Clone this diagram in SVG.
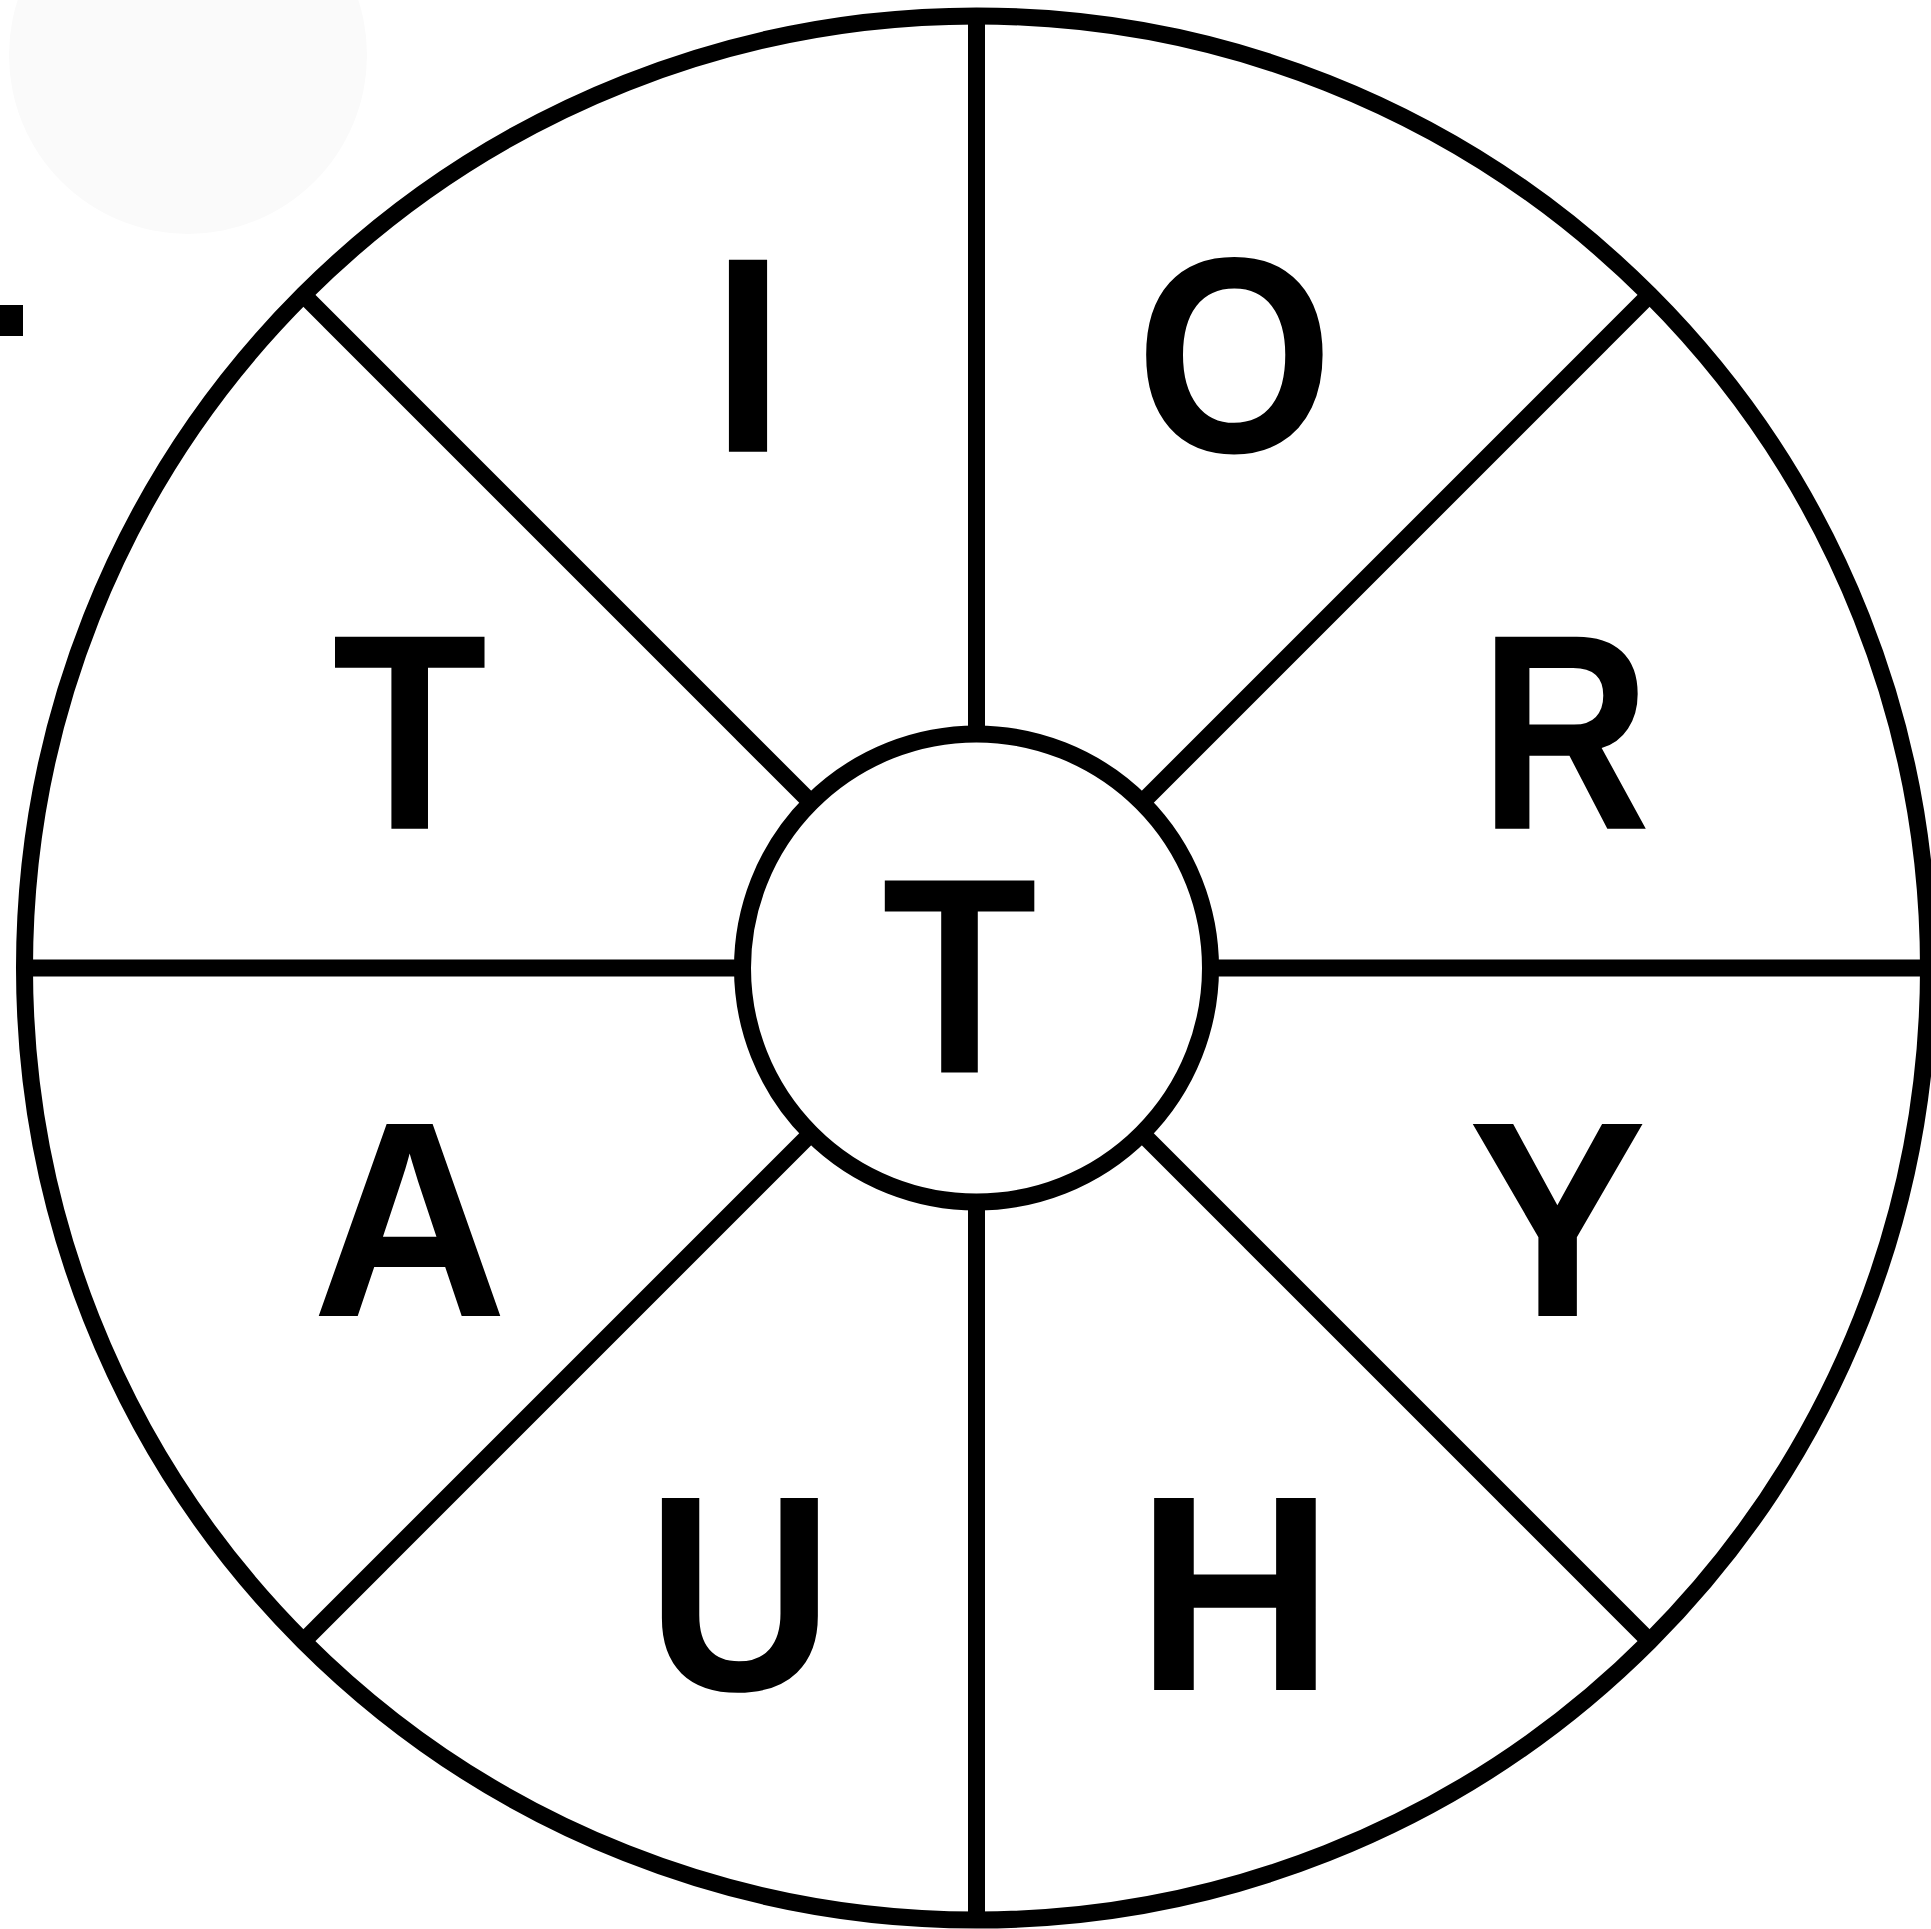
<svg xmlns="http://www.w3.org/2000/svg" width="1931" height="1929" viewBox="0 0 1931 1929">
<style>
.ln{stroke:#000;stroke-width:17;fill:none}
.cw{stroke:#000;stroke-width:17;fill:#fff}
.lt{font-family:"Liberation Sans",Arial,sans-serif;font-weight:700;font-size:279px;fill:#000;text-anchor:middle}
</style>
<rect x="0" y="0" width="1931" height="1929" fill="#fff"/>
<circle cx="188" cy="55" r="179" fill="#fafafa"/>
<rect x="0" y="305" width="23" height="31" fill="#000"/>
<g id="outer"><circle class="cw" cx="976.5" cy="968" r="952"/></g>
<g id="connectors">
<line class="ln" x1="976.5" y1="16" x2="976.5" y2="1920"/>
<line class="ln" x1="24.5" y1="968" x2="1928.5" y2="968"/>
<line class="ln" x1="303.3" y1="294.8" x2="1649.7" y2="1641.2"/>
<line class="ln" x1="1649.7" y1="294.8" x2="303.3" y2="1641.2"/>
</g>
<g id="center"><circle class="cw" cx="976.5" cy="968" r="234"/><text class="lt" transform="translate(959.5,1072.5) scale(0.91,1)">T</text></g>
<g id="n-I"><text class="lt" transform="translate(748,451.7) scale(0.95,1)">I</text></g>
<g id="n-O"><text class="lt" transform="translate(1234.5,451.7) scale(0.91,1)">O</text></g>
<g id="n-T"><text class="lt" transform="translate(409.7,828.7) scale(0.91,1)">T</text></g>
<g id="n-R"><text class="lt" transform="translate(1565,828.7) scale(0.85,1)">R</text></g>
<g id="n-A"><text class="lt" transform="translate(409.7,1316) scale(0.97,1)">A</text></g>
<g id="n-Y"><text class="lt" transform="translate(1557.5,1316) scale(0.96,1)">Y</text></g>
<g id="n-U"><text class="lt" transform="translate(740,1690) scale(0.93,1)">U</text></g>
<g id="n-H"><text class="lt" transform="translate(1235,1690) scale(0.985,1)">H</text></g>
</svg>
